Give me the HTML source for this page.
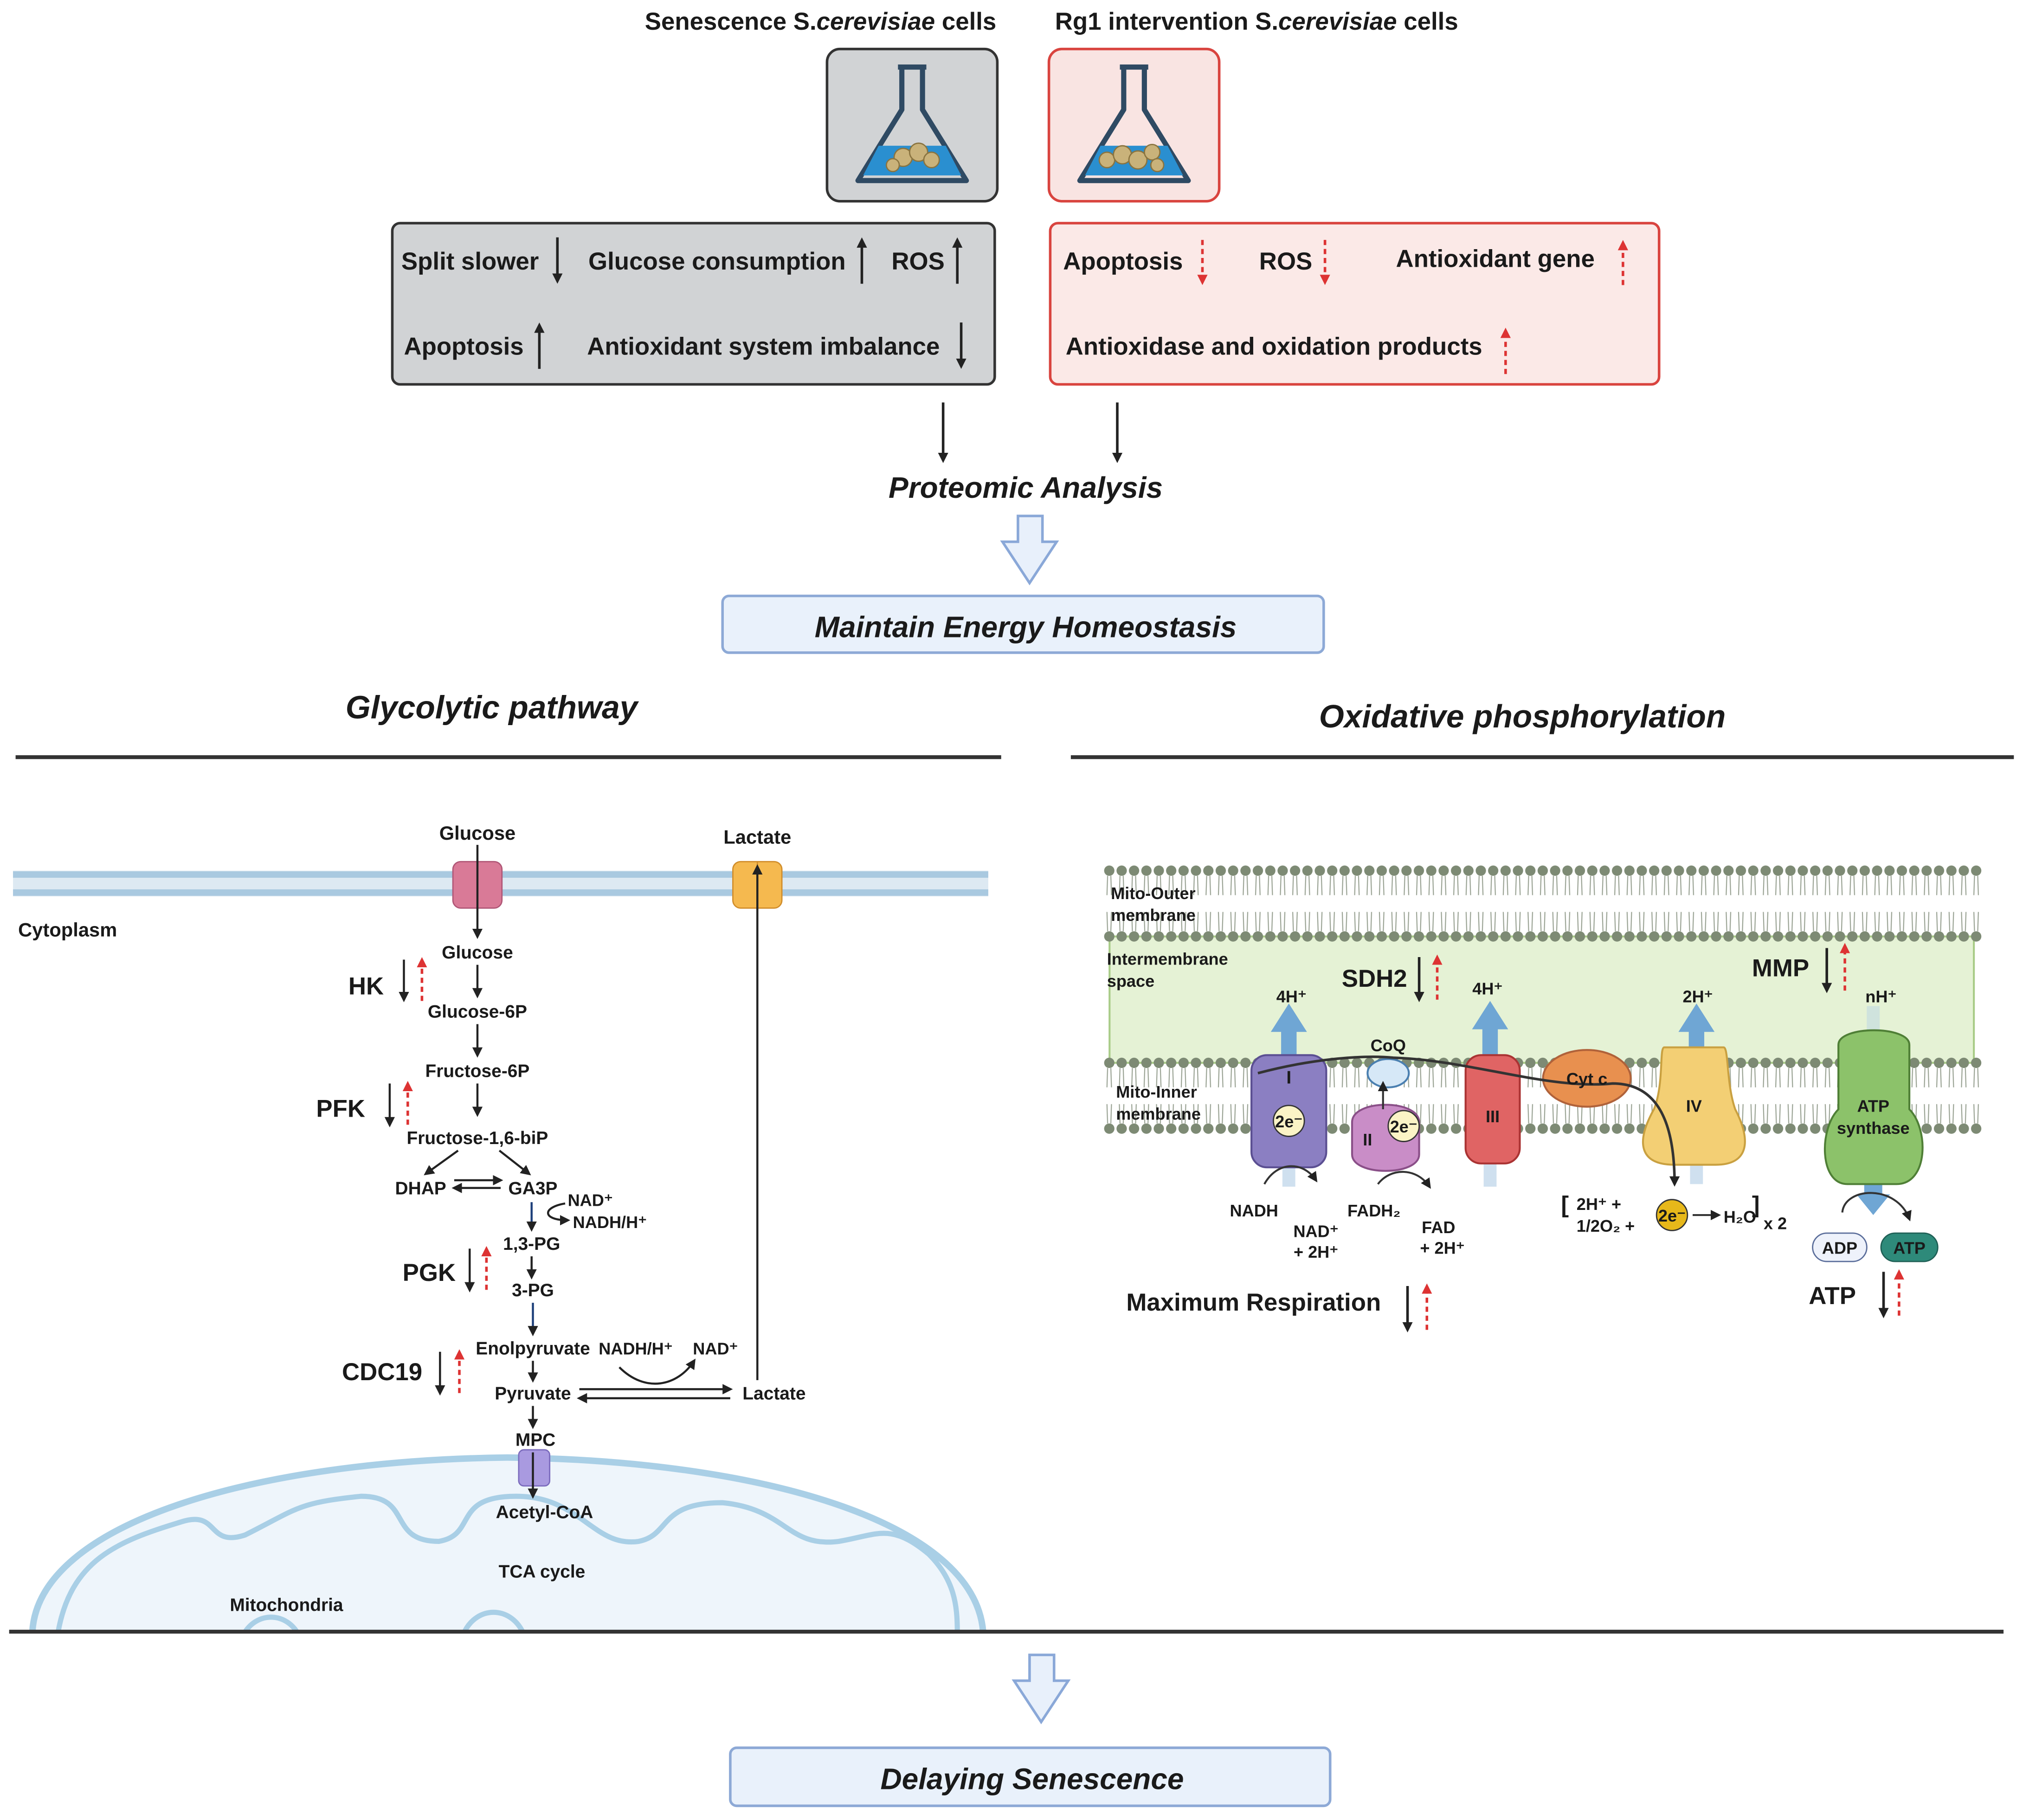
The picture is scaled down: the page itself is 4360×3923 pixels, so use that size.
<!DOCTYPE html>
<html><head><meta charset="utf-8"><style>
html,body{margin:0;padding:0;background:#fff;}
svg{display:block;}
text{font-family:"Liberation Sans",Arial,sans-serif;font-weight:bold;fill:#1a1a1a;}
</style></head><body>
<svg width="4360" height="3923" viewBox="0 0 1568 1411" xmlns="http://www.w3.org/2000/svg">
<defs>
<marker id="ah" markerWidth="8" markerHeight="8" refX="6" refY="4" orient="auto" markerUnits="userSpaceOnUse"><path d="M0,0 L8,4 L0,8 z" fill="#222"/></marker>
<marker id="ahr" markerWidth="8" markerHeight="8" refX="6" refY="4" orient="auto" markerUnits="userSpaceOnUse"><path d="M0,0 L8,4 L0,8 z" fill="#d33"/></marker>
<pattern id="bilA" x="855" y="670" width="9.6" height="61" patternUnits="userSpaceOnUse">
<path d="M3.5,9 L3,24 M6,9 L6.5,24 M3.5,52 L3,37 M6,52 L6.5,37" stroke="#9aa394" stroke-width="0.8" fill="none"/>
<circle cx="4.8" cy="5" r="4" fill="#7d8a74"/>
<circle cx="4.8" cy="56" r="4" fill="#7d8a74"/>
</pattern>
<pattern id="bilB" x="855" y="819" width="9.6" height="61" patternUnits="userSpaceOnUse">
<path d="M3.5,9 L3,24 M6,9 L6.5,24 M3.5,52 L3,37 M6,52 L6.5,37" stroke="#9aa394" stroke-width="0.8" fill="none"/>
<circle cx="4.8" cy="5" r="4" fill="#7d8a74"/>
<circle cx="4.8" cy="56" r="4" fill="#7d8a74"/>
</pattern>
</defs>

<!-- Top titles -->
<text x="636" y="23" font-size="19" text-anchor="middle">Senescence S.<tspan font-style="italic">cerevisiae</tspan> cells</text>
<text x="974" y="23" font-size="19" text-anchor="middle">Rg1 intervention S.<tspan font-style="italic">cerevisiae</tspan> cells</text>

<!-- flask boxes -->
<rect x="641" y="38" width="132" height="118" rx="10" fill="#d1d3d5" stroke="#333" stroke-width="2"/>
<rect x="813" y="38" width="132" height="118" rx="10" fill="#f9e4e2" stroke="#d9443f" stroke-width="2"/>
<g fill="none" stroke="#2f4a63" stroke-width="4" stroke-linejoin="round">
<path d="M696,52 L718,52 M699,52 L699,85 L665,140 L749,140 L715,85 L715,52"/>
<path d="M868,52 L890,52 M871,52 L871,85 L837,140 L921,140 L887,85 L887,52"/>
</g>
<path d="M681,113 L733,113 L745,136 L669,136 z" fill="#2a8fd0"/>
<path d="M853,113 L905,113 L917,136 L841,136 z" fill="#2a8fd0"/>
<g fill="#c9b27a" stroke="#8a7440" stroke-width="1"><circle cx="700" cy="122" r="7"/><circle cx="712" cy="118" r="7"/><circle cx="722" cy="124" r="6"/><circle cx="692" cy="128" r="5"/>
<circle cx="858" cy="124" r="6"/><circle cx="870" cy="120" r="7"/><circle cx="882" cy="124" r="7"/><circle cx="893" cy="118" r="6"/><circle cx="897" cy="128" r="5"/></g>

<!-- big boxes -->
<rect x="304" y="173" width="467" height="125" rx="6" fill="#d1d3d5" stroke="#333" stroke-width="2"/>
<rect x="814" y="173" width="472" height="125" rx="6" fill="#fbe9e7" stroke="#d9443f" stroke-width="2"/>
<g font-size="19">
<text x="311" y="209">Split slower</text>
<text x="456" y="209">Glucose consumption</text>
<text x="691" y="209">ROS</text>
<text x="313" y="275">Apoptosis</text>
<text x="455" y="275">Antioxidant system imbalance</text>
<text x="824" y="209">Apoptosis</text>
<text x="976" y="209">ROS</text>
<text x="1082" y="207">Antioxidant gene</text>
<text x="826" y="275">Antioxidase and oxidation products</text>
</g>
<g stroke="#222" stroke-width="2" marker-end="url(#ah)">
<line x1="432" y1="184" x2="432" y2="218"/>
<line x1="668" y1="220" x2="668" y2="186"/>
<line x1="742" y1="220" x2="742" y2="186"/>
<line x1="418" y1="286" x2="418" y2="252"/>
<line x1="745" y1="250" x2="745" y2="284"/>
<line x1="731" y1="312" x2="731" y2="357"/>
<line x1="866" y1="312" x2="866" y2="357"/>
</g>
<g stroke="#d33" stroke-width="2" stroke-dasharray="4,3" marker-end="url(#ahr)">
<line x1="932" y1="186" x2="932" y2="219"/>
<line x1="1027" y1="186" x2="1027" y2="219"/>
<line x1="1258" y1="221" x2="1258" y2="188"/>
<line x1="1167" y1="290" x2="1167" y2="256"/>
</g>

<text x="795" y="386" font-size="23" font-style="italic" text-anchor="middle">Proteomic Analysis</text>
<path d="M789,400 L808,400 L808,420 L819,420 L798,452 L777,420 L789,420 z" fill="#e8f0fb" stroke="#8aa8d8" stroke-width="2"/>
<rect x="560" y="462" width="466" height="44" rx="5" fill="#e9f1fb" stroke="#8da9d6" stroke-width="2"/>
<text x="795" y="494" font-size="23" font-style="italic" text-anchor="middle">Maintain Energy Homeostasis</text>

<text x="381" y="557" font-size="25" font-style="italic" text-anchor="middle" fill="#333">Glycolytic pathway</text>
<text x="1180" y="564" font-size="25" font-style="italic" text-anchor="middle" fill="#333">Oxidative phosphorylation</text>
<line x1="12" y1="587" x2="776" y2="587" stroke="#333" stroke-width="3"/>
<line x1="830" y1="587" x2="1561" y2="587" stroke="#333" stroke-width="3"/>

<!-- cell membrane -->
<rect x="10" y="675" width="756" height="20" fill="#dde9f2"/>
<line x1="10" y1="678" x2="766" y2="678" stroke="#a9c9e0" stroke-width="5"/>
<line x1="10" y1="692" x2="766" y2="692" stroke="#a9c9e0" stroke-width="5"/>
<rect x="351" y="668" width="38" height="36" rx="6" fill="#d97a97" stroke="#b05676"/>
<line x1="370" y1="668" x2="370" y2="704" stroke="#b05676"/>
<rect x="568" y="668" width="38" height="36" rx="6" fill="#f5b94f" stroke="#d18d2a"/>
<line x1="587" y1="668" x2="587" y2="704" stroke="#d18d2a"/>

<!-- mitochondria -->
<path d="M25,1265 C30,1180 200,1132 393,1130 C590,1132 755,1180 762,1265" fill="#eef5fb" stroke="#a9cfe6" stroke-width="5"/>
<path d="M45,1265 C55,1210 90,1195 140,1180 C170,1170 160,1200 190,1190 C230,1170 230,1165 280,1160 C320,1160 300,1195 340,1195 C370,1190 350,1160 400,1160 C450,1160 460,1200 495,1195 C520,1190 510,1165 560,1165 C610,1170 610,1200 650,1195 C680,1190 690,1180 720,1205 C740,1225 742,1245 742,1265" fill="none" stroke="#a9cfe6" stroke-width="4"/>
<path d="M190,1265 C200,1250 220,1250 230,1265 M360,1265 C370,1245 395,1245 405,1265" fill="none" stroke="#a9cfe6" stroke-width="4"/>
<rect x="402" y="1124" width="24" height="28" rx="4" fill="#a99ae0" stroke="#7b6bbd"/>

<g font-size="15">
<text x="370" y="651" text-anchor="middle">Glucose</text>
<text x="587" y="654" text-anchor="middle">Lactate</text>
<text x="14" y="726">Cytoplasm</text>
</g>
<g font-size="14" text-anchor="middle">
<text x="370" y="743">Glucose</text>
<text x="370" y="789">Glucose-6P</text>
<text x="370" y="835">Fructose-6P</text>
<text x="370" y="887">Fructose-1,6-biP</text>
<text x="326" y="926">DHAP</text>
<text x="413" y="926">GA3P</text>
<text x="412" y="969">1,3-PG</text>
<text x="413" y="1005">3-PG</text>
<text x="413" y="1050">Enolpyruvate</text>
<text x="413" y="1085">Pyruvate</text>
<text x="600" y="1085">Lactate</text>
<text x="415" y="1121">MPC</text>
<text x="422" y="1177">Acetyl-CoA</text>
<text x="420" y="1223">TCA cycle</text>
<text x="222" y="1249" fill="#666">Mitochondria</text>
</g>
<g font-size="13">
<text x="440" y="935">NAD⁺</text>
<text x="444" y="952">NADH/H⁺</text>
<text x="464" y="1050">NADH/H⁺</text>
<text x="537" y="1050">NAD⁺</text>
</g>
<g font-size="19">
<text x="270" y="771">HK</text>
<text x="245" y="866">PFK</text>
<text x="312" y="993">PGK</text>
<text x="265" y="1070">CDC19</text>
</g>
<g stroke="#222" stroke-width="1.6" marker-end="url(#ah)" fill="none">
<line x1="370" y1="655" x2="370" y2="726"/>
<line x1="370" y1="748" x2="370" y2="772"/>
<line x1="370" y1="794" x2="370" y2="818"/>
<line x1="370" y1="840" x2="370" y2="864"/>
<line x1="355" y1="892" x2="330" y2="910"/>
<line x1="387" y1="892" x2="410" y2="910"/>
<line x1="352" y1="915" x2="388" y2="915"/>
<line x1="388" y1="921" x2="352" y2="921"/>
<line x1="412" y1="974" x2="412" y2="990"/>
<line x1="413" y1="1055" x2="413" y2="1070"/>
<line x1="413" y1="1090" x2="413" y2="1106"/>
<line x1="413" y1="1126" x2="413" y2="1160"/>
<line x1="449" y1="1077" x2="566" y2="1077"/>
<line x1="566" y1="1084" x2="449" y2="1084"/>
<line x1="587" y1="1070" x2="587" y2="672"/>
<path d="M438,933 C420,936 420,946 440,946"/>
<path d="M480,1060 C500,1080 525,1075 538,1055"/>
<line x1="313" y1="744" x2="313" y2="775"/>
<line x1="302" y1="840" x2="302" y2="872"/>
<line x1="364" y1="968" x2="364" y2="1000"/>
<line x1="341" y1="1048" x2="341" y2="1080"/>
</g>
<g stroke="#1d3f7a" stroke-width="1.6" marker-end="url(#ah)"><line x1="412" y1="932" x2="412" y2="953"/><line x1="413" y1="1010" x2="413" y2="1034"/></g>
<g stroke="#d33" stroke-width="2" stroke-dasharray="4,3" marker-end="url(#ahr)">
<line x1="327" y1="776" x2="327" y2="744"/>
<line x1="316" y1="872" x2="316" y2="840"/>
<line x1="377" y1="1000" x2="377" y2="968"/>
<line x1="356" y1="1080" x2="356" y2="1048"/>
</g>

<line x1="7" y1="1265" x2="1553" y2="1265" stroke="#333" stroke-width="3"/>

<path d="M798,1283 L817,1283 L817,1303 L828,1303 L807,1335 L786,1303 L798,1303 z" fill="#e8f0fb" stroke="#8aa8d8" stroke-width="2"/>
<rect x="566" y="1355" width="465" height="45" rx="5" fill="#e9f1fb" stroke="#8da9d6" stroke-width="2"/>
<text x="800" y="1387" font-size="23" font-style="italic" text-anchor="middle">Delaying Senescence</text>

<!-- Oxphos membranes -->
<rect x="860" y="726" width="670" height="98" fill="#e5f2d5" stroke="#a9cc88" stroke-width="1.5"/>
<rect x="855" y="670" width="682" height="61" fill="url(#bilA)"/>
<rect x="855" y="819" width="682" height="61" fill="url(#bilB)"/>
<g font-size="13">
<text x="861" y="697">Mito-Outer</text><text x="861" y="714">membrane</text>
<text x="858" y="748">Intermembrane</text><text x="858" y="765">space</text>
<text x="865" y="851">Mito-Inner</text><text x="865" y="868">membrane</text>
</g>
<!-- proton arrows -->
<g fill="#6fa6d4">
<path d="M993,820 L993,800 L985,800 L999,778 L1013,800 L1005,800 L1005,820 z"/>
<path d="M1149,820 L1149,798 L1141,798 L1155,776 L1169,798 L1161,798 L1161,820 z"/>
<path d="M1309,815 L1309,800 L1301,800 L1315,778 L1329,800 L1321,800 L1321,815 z"/>
<rect x="1447" y="780" width="10" height="25" fill="#cfe3dd"/>
<path d="M1445,918 L1459,918 L1459,926 L1465,926 L1452,942 L1439,926 L1445,926 z"/>
</g>
<g fill="#cfe0ef"><rect x="994" y="905" width="10" height="15"/><rect x="1150" y="902" width="10" height="18"/><rect x="1310" y="903" width="10" height="15"/></g>
<!-- complexes -->
<rect x="970" y="818" width="58" height="87" rx="12" fill="#8b7fc2" stroke="#5b4f92" stroke-width="1.5"/>
<path d="M1048,870 C1048,852 1100,852 1100,870 L1100,895 C1100,912 1048,912 1048,895 z" fill="#c98dc7" stroke="#8a4f88" stroke-width="1.5"/>
<ellipse cx="1076" cy="832" rx="16" ry="11" fill="#d6e8f7" stroke="#4a7fb0" stroke-width="1.5"/>
<rect x="1136" y="818" width="42" height="84" rx="12" fill="#e06464" stroke="#a33" stroke-width="1.5"/>
<ellipse cx="1230" cy="836" rx="34" ry="22" fill="#e8904f" stroke="#b0623a" stroke-width="1.5"/>
<path d="M1290,812 L1336,812 C1340,812 1338,840 1345,860 C1358,885 1355,903 1330,903 L1298,903 C1270,903 1268,885 1282,860 C1290,840 1286,812 1290,812 z" fill="#f3cf74" stroke="#c9a040" stroke-width="1.5"/>
<path d="M1425,810 C1425,795 1480,795 1480,810 L1480,860 C1495,875 1495,918 1470,918 L1432,918 C1410,918 1410,875 1425,860 z" fill="#8cc26a" stroke="#4f7f36" stroke-width="1.5"/>
<path d="M975,832 C1020,820 1060,818 1080,820 C1140,822 1200,845 1250,840 C1290,840 1298,880 1298,918" fill="none" stroke="#333" stroke-width="2" marker-end="url(#ah)"/>
<circle cx="999" cy="869" r="12" fill="#fbf3c6" stroke="#333"/>
<circle cx="1088" cy="873" r="12" fill="#fbf3c6" stroke="#333"/>
<path d="M1072,860 L1072,840" stroke="#333" stroke-width="1.5" marker-end="url(#ah)"/>
<circle cx="1296" cy="942" r="12" fill="#e7b81a" stroke="#333"/>
<g font-size="13" text-anchor="middle">
<text x="999" y="840" font-size="14">I</text>
<text x="999" y="874">2e⁻</text>
<text x="1060" y="888">II</text>
<text x="1088" y="878">2e⁻</text>
<text x="1076" y="815">CoQ</text>
<text x="1157" y="870">III</text>
<text x="1230" y="841">Cyt c</text>
<text x="1313" y="862">IV</text>
<text x="1452" y="862">ATP</text><text x="1452" y="879">synthase</text>
<text x="1296" y="947">2e⁻</text>
<text x="1001" y="777">4H⁺</text><text x="1153" y="771">4H⁺</text><text x="1316" y="777">2H⁺</text><text x="1458" y="777">nH⁺</text>
<text x="972" y="943">NADH</text>
<text x="1020" y="959">NAD⁺</text><text x="1020" y="975">+ 2H⁺</text>
<text x="1065" y="943">FADH₂</text>
<text x="1115" y="956">FAD</text><text x="1118" y="972">+ 2H⁺</text>
</g>
<g stroke="#333" stroke-width="1.5" fill="none" marker-end="url(#ah)">
<path d="M980,918 C990,900 1010,900 1020,915"/>
<path d="M1068,918 C1078,905 1098,905 1108,920"/>
<path d="M1428,940 C1430,920 1470,918 1480,945"/>
<line x1="1312" y1="942" x2="1332" y2="942"/>
</g>
<text x="1210" y="940" font-size="18" font-weight="normal">[</text>
<text x="1222" y="938" font-size="13">2H⁺ +</text>
<text x="1222" y="955" font-size="13">1/2O₂ +</text>
<text x="1336" y="948" font-size="13">H₂O</text>
<text x="1358" y="940" font-size="18" font-weight="normal">]</text>
<text x="1367" y="953" font-size="13">x 2</text>
<rect x="1405" y="956" width="42" height="22" rx="11" fill="#eef2fb" stroke="#5a6d9a"/>
<text x="1426" y="972" font-size="13" text-anchor="middle">ADP</text>
<rect x="1458" y="956" width="44" height="22" rx="11" fill="#2e8a7a" stroke="#1f5f55"/>
<text x="1480" y="972" font-size="13" text-anchor="middle" fill="#fff">ATP</text>
<g font-size="19">
<text x="1040" y="765">SDH2</text>
<text x="1358" y="757">MMP</text>
<text x="873" y="1016">Maximum Respiration</text>
<text x="1402" y="1011">ATP</text>
</g>
<g stroke="#222" stroke-width="2" marker-end="url(#ah)">
<line x1="1100" y1="742" x2="1100" y2="775"/>
<line x1="1416" y1="735" x2="1416" y2="768"/>
<line x1="1091" y1="997" x2="1091" y2="1031"/>
<line x1="1460" y1="986" x2="1460" y2="1020"/>
</g>
<g stroke="#d33" stroke-width="2" stroke-dasharray="4,3" marker-end="url(#ahr)">
<line x1="1114" y1="775" x2="1114" y2="742"/>
<line x1="1430" y1="768" x2="1430" y2="733"/>
<line x1="1106" y1="1031" x2="1106" y2="997"/>
<line x1="1472" y1="1020" x2="1472" y2="986"/>
</g>
</svg>
</body></html>
